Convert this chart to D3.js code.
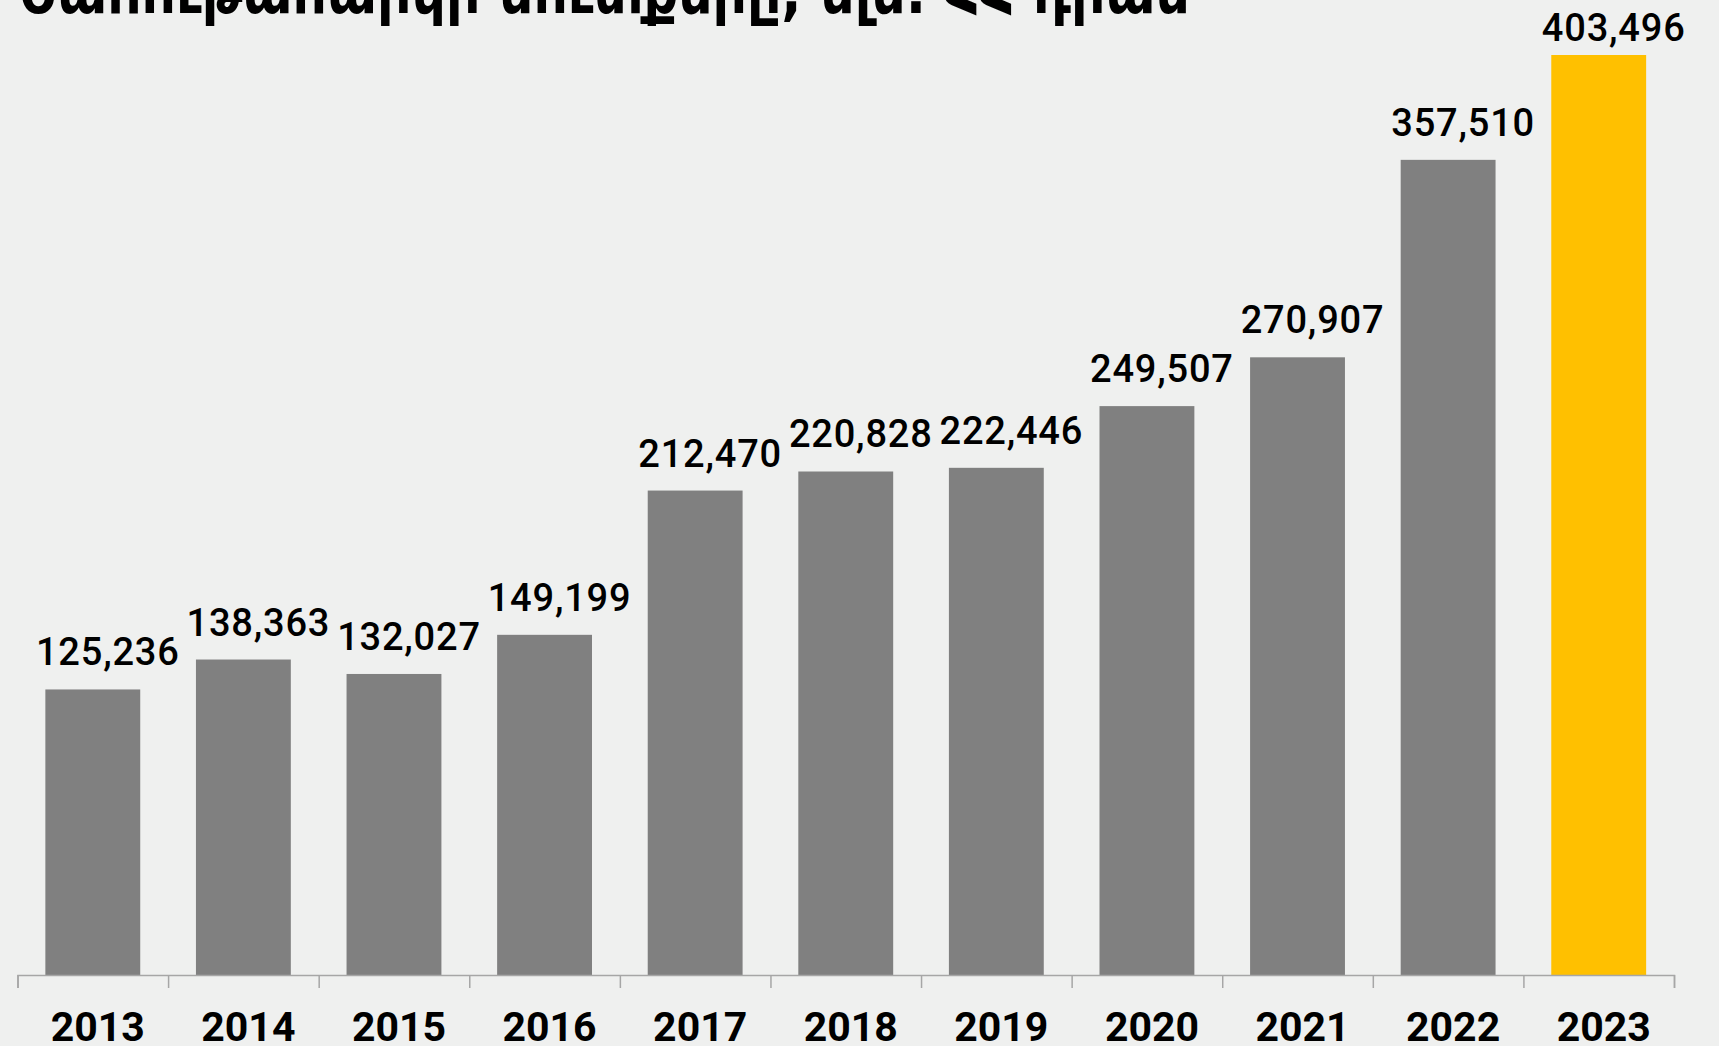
<!DOCTYPE html>
<html>
<head>
<meta charset="utf-8">
<script src="https://cdn.jsdelivr.net/npm/d3@7"></script>
<style>
  html, body { margin: 0; padding: 0; background: #eff0ef; }
  svg { display: block; }
</style>
</head>
<body>
<svg id="chart" width="1719" height="1046"></svg>
<script>
const years = ["2013", "2014", "2015", "2016", "2017", "2018", "2019", "2020", "2021", "2022", "2023"];
const values = [125236, 138363, 132027, 149199, 212470, 220828, 222446, 249507, 270907, 357510, 403496];
const highlightYear = "2023";
const titleText = "Շահութահարկի մուտքերը, մլն. ՀՀ դրամ";

const W = 1719, H = 1046;
const left = 17.5, right = 1674, axisY = 975, topY = 55;

const svg = d3.select("#chart");

svg.append("rect")
  .attr("width", W).attr("height", H)
  .attr("fill", "#eff0ef");

// title, mostly cut off by the top edge
svg.append("text")
  .attr("x", 19).attr("y", 13)
  .attr("textLength", 1171)
  .attr("lengthAdjust", "spacingAndGlyphs")
  .style("font-family", "'DejaVu Sans Condensed', 'DejaVu Sans', sans-serif")
  .style("font-weight", 700)
  .style("font-size", "62px")
  .attr("fill", "#000")
  .text(titleText);

const x = d3.scaleBand()
  .domain(years)
  .range([left, right])
  .paddingInner(0.37)
  .paddingOuter(0.185);

const y = d3.scaleLinear()
  .domain([0, d3.max(values)])
  .range([axisY, topY]);

const data = years.map((yr, i) => ({ year: yr, value: values[i] }));

svg.selectAll("rect.bar")
  .data(data)
  .enter()
  .append("rect")
    .attr("class", "bar")
    .attr("x", d => x(d.year))
    .attr("y", d => y(d.value))
    .attr("width", x.bandwidth())
    .attr("height", d => axisY - y(d.value))
    .attr("fill", d => d.year === highlightYear ? "#ffc000" : "#808080");

// value labels (kept inside the top edge)
svg.selectAll("text.val")
  .data(data)
  .enter()
  .append("text")
    .attr("class", "val")
    .attr("x", d => x(d.year) + x.bandwidth() / 2 + 15)
    .attr("y", d => Math.max(y(d.value) - 24, 40.5))
    .attr("text-anchor", "middle")
    .style("font-family", "Roboto, sans-serif")
    .style("font-weight", 500)
    .style("font-size", "38px")
    .style("letter-spacing", "0.8px")
    .attr("fill", "#000")
    .text(d => d3.format(",")(d.value));

// axis with ticks on band edges
const edge = d3.scaleLinear().domain([0, years.length]).range([left, right]);
const axis = svg.append("g")
  .attr("transform", `translate(0,${axisY})`)
  .call(d3.axisBottom(edge).ticks(years.length).tickFormat("").tickSize(13).tickSizeOuter(13));
axis.selectAll("path, line").attr("stroke", "#a6a6a6").attr("stroke-width", 1.5);

// year labels
svg.selectAll("text.yr")
  .data(data)
  .enter()
  .append("text")
    .attr("class", "yr")
    .attr("x", d => x(d.year) + x.bandwidth() / 2 + 5)
    .attr("y", 1041)
    .attr("text-anchor", "middle")
    .style("font-family", "Roboto, sans-serif")
    .style("font-weight", 700)
    .style("font-size", "41px")
    .attr("fill", "#000")
    .text(d => d.year);
</script>
</body>
</html>
